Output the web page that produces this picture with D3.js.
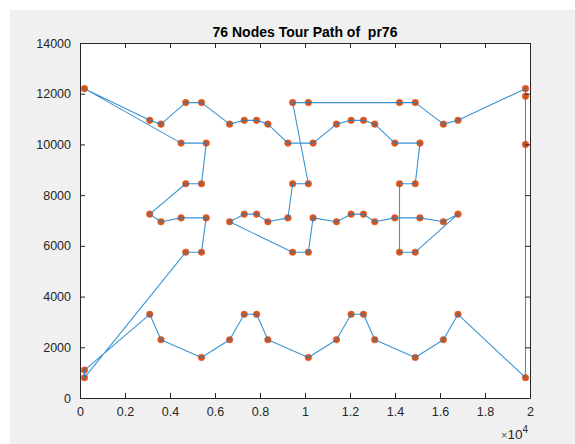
<!DOCTYPE html>
<html>
<head>
<meta charset="utf-8">
<script src="https://cdn.jsdelivr.net/npm/d3@7"></script>
<style>
  html, body { margin: 0; padding: 0; background: #ffffff; }
  svg { display: block; }
  text { font-family: "Liberation Sans", Arial, Helvetica, sans-serif; }
</style>
</head>
<body>
<svg id="chart" width="575" height="444"></svg>
<script>
// pr76 city coordinates (TSPLIB), node ids 1..76
const nodeIds = d3.range(1, 77);
const nodeX = [3600,3100,4700,5400,5608,4493,3600,3100,4700,5400,5610,4492,3600,3100,4700,5400,
  6650,7300,7300,6650,7300,6650,5400,8350,7850,9450,10150,10358,9243,8350,7850,9450,10150,10360,
  9242,8350,7850,9450,10150,11400,12050,12050,11400,12050,11400,10150,13100,12600,14200,14900,
  15108,13993,13100,12600,14200,14900,15110,13992,13100,12600,14200,14900,16150,16800,16800,
  16150,16800,16150,14900,19800,19800,19800,19800,200,200,200];
const nodeY = [2300,3300,5750,5750,7103,7102,6950,7250,8450,8450,10053,10052,10800,10950,11650,
  11650,10800,10950,7250,6950,3300,2300,1600,2300,3300,5750,5750,7103,7102,6950,7250,8450,8450,
  10053,10052,10800,10950,11650,11650,10800,10950,7250,6950,3300,2300,1600,2300,3300,5750,5750,
  7103,7102,6950,7250,8450,8450,10053,10052,10800,10950,11650,11650,10800,10950,7250,6950,3300,
  2300,1600,800,10000,11900,12200,12200,1100,800];

// visiting order of the tour (closed back to the first node)
const tourOrder = [74,14,13,15,16,17,18,37,36,35,34,40,41,60,59,58,57,56,55,49,50,65,66,51,52,
  53,54,42,43,28,27,26,20,19,31,30,29,32,33,38,39,61,62,63,64,73,72,71,70,67,68,69,47,48,44,45,
  46,24,25,21,22,23,1,2,75,76,3,4,5,6,7,8,9,10,11,12];

const xTicks = [0,2000,4000,6000,8000,10000,12000,14000,16000,18000,20000];
const xTickLabels = ["0","0.2","0.4","0.6","0.8","1","1.2","1.4","1.6","1.8","2"];
const yTicks = [0,2000,4000,6000,8000,10000,12000,14000];
const yTickLabels = ["0","2000","4000","6000","8000","10000","12000","14000"];
const titleText = "76 Nodes Tour Path of  pr76";

const svg = d3.select("#chart");
const W = 575, H = 444;
const plotL = 80, plotR = 530, plotT = 43, plotB = 398;

// figure background
svg.append("rect").attr("x", 0).attr("y", 0).attr("width", W).attr("height", H).attr("fill", "#ffffff");
svg.append("rect").attr("x", 10).attr("y", 10).attr("width", W - 10).attr("height", H - 10).attr("fill", "#f0f0f0");
svg.append("rect").attr("x", plotL).attr("y", plotT).attr("width", plotR - plotL).attr("height", plotB - plotT).attr("fill", "#ffffff");

const x = d3.scaleLinear().domain([0, 20000]).range([plotL, plotR]);
const y = d3.scaleLinear().domain([0, 14000]).range([plotB, plotT]);

const pts = nodeIds.map((id, i) => ({ id, x: nodeX[i], y: nodeY[i] }));
const byId = new Map(pts.map(p => [p.id, p]));
const path = tourOrder.map(id => byId.get(id));
path.push(byId.get(tourOrder[0]));

// city markers
svg.append("g").selectAll("circle").data(pts).join("circle")
  .attr("cx", d => x(d.x)).attr("cy", d => y(d.y)).attr("r", 3.3)
  .attr("fill", "#D95319").attr("stroke", "#e0643a").attr("stroke-width", 0.6);

// tour line
svg.append("path").datum(path)
  .attr("d", d3.line().x(d => x(d.x)).y(d => y(d.y)))
  .attr("fill", "none").attr("stroke", "#1a80c8").attr("stroke-width", 1.1)
  .attr("stroke-opacity", 0.85).attr("stroke-linejoin", "round");

// axes (boxed axes with inward ticks)
const tickLen = 5;
const axisColor = "#262626";
const xAxisB = d3.axisBottom(x).tickValues(xTicks).tickFormat((d, i) => xTickLabels[i]).tickSizeInner(-tickLen).tickSizeOuter(0).tickPadding(9);
const xAxisT = d3.axisTop(x).tickValues(xTicks).tickFormat("").tickSizeInner(-tickLen).tickSizeOuter(0);
const yAxisL = d3.axisLeft(y).tickValues(yTicks).tickFormat((d, i) => yTickLabels[i]).tickSizeInner(-tickLen).tickSizeOuter(0).tickPadding(9);
const yAxisR = d3.axisRight(y).tickValues(yTicks).tickFormat("").tickSizeInner(-tickLen).tickSizeOuter(0);

function style(g) {
  g.select(".domain").attr("stroke", axisColor).attr("stroke-width", 1);
  g.selectAll(".tick line").attr("stroke", axisColor).attr("stroke-width", 1);
  g.selectAll(".tick text").attr("fill", "#262626").attr("font-size", 12.5)
    .style("font-family", "'Liberation Sans', Arial, sans-serif");
}
svg.append("g").attr("transform", `translate(0,${plotB})`).call(xAxisB).call(style);
svg.append("g").attr("transform", `translate(0,${plotT})`).call(xAxisT).call(style);
svg.append("g").attr("transform", `translate(${plotL},0)`).call(yAxisL).call(style);
svg.append("g").attr("transform", `translate(${plotR},0)`).call(yAxisR).call(style);

// exponent label
const ex = svg.append("text").attr("x", plotR - 2).attr("y", 439).attr("text-anchor", "end")
  .attr("fill", "#262626").attr("font-size", 13.5);
ex.append("tspan").attr("font-size", 11).attr("fill", "#555").text("\u00d7");
ex.append("tspan").text("10");
ex.append("tspan").attr("dy", -6).attr("font-size", 10).text("4");

// title
svg.append("text").attr("x", (plotL + plotR) / 2).attr("y", 37).attr("text-anchor", "middle")
  .style("white-space", "pre")
  .attr("font-weight", "bold").attr("font-size", 14).attr("fill", "#000000").text(titleText);
</script>
</body>
</html>
